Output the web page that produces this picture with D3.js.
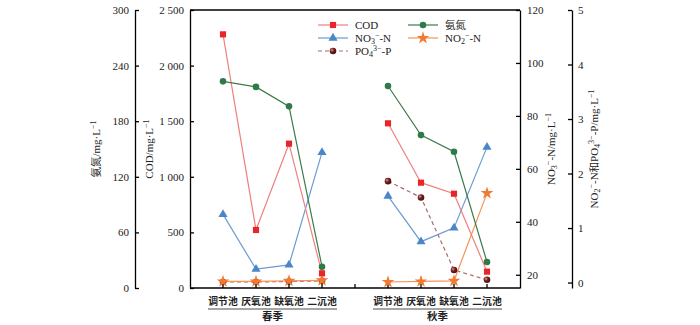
<!DOCTYPE html>
<html lang="zh">
<head>
<meta charset="UTF-8">
<title>Water quality by tank</title>
<script src="https://d3js.org/d3.v7.min.js"></script>
<style>
  body { margin: 0; background: #fff; }
  svg { font-family: "Liberation Serif", "Noto Sans CJK SC", serif; }
  .cn { font-family: "Noto Sans CJK SC", sans-serif; }
</style>
</head>
<body>
<script>
const width = 700, height = 325;

// data (spring 4 tanks, then autumn 4 tanks)
const seasons = ["春季", "秋季"];
const stations = ["调节池", "厌氧池", "缺氧池", "二沉池"];
const codVals = [2281, 522, 1298, 132, 1481, 947, 848, 147];
const nh4Vals = [223, 217, 196, 23, 218, 165, 147, 28];
const no3Vals = [42.8, 22.1, 23.7, 66.2, 49.7, 32.5, 37.7, 68.2];
const no2Vals = [0.02, 0.02, 0.03, 0.04, 0.01, 0.02, 0.03, 1.64];
const po4Vals = [0.01, 0.01, 0.02, 0.03, 1.86, 1.56, 0.23, 0.05];

const nh4Ticks = [0, 60, 120, 180, 240, 300];
const codTicks = [0, 500, 1000, 1500, 2000, 2500];
const no3Ticks = [20, 40, 60, 80, 100, 120];
const pTicks = [0, 1, 2, 3, 4, 5];

const plotTop = 10, plotBottom = 288, plotLeft = 190, plotRight = 520;

const svg = d3.select("body").append("svg")
  .attr("width", width).attr("height", height);

// x slots: one empty slot at each end and between the seasons
const slots = ["s0"];
seasons.forEach((s, i) => {
  stations.forEach(st => slots.push(s + "|" + st));
  slots.push("s" + (i + 1));
});
const x = d3.scalePoint().domain(slots).range([plotLeft, plotRight]);
const keys = [];
seasons.forEach(s => stations.forEach(st => keys.push(s + "|" + st)));

const yNH4 = d3.scaleLinear().domain([0, 300]).range([plotBottom, plotTop]);
const yCOD = d3.scaleLinear().domain([0, 2500]).range([plotBottom, plotTop]);
const yNO3 = d3.scaleLinear().domain([15, 120]).range([plotBottom, plotTop]);
const yP = d3.scaleLinear().domain([-0.1, 5]).range([plotBottom, plotTop]);

function fmt(d) {
  return d >= 1000 ? String(d).replace(/(\d)(\d{3})$/, "$1 $2") : String(d);
}

function styleAxis(g) {
  g.selectAll("path").attr("stroke", "#000").attr("stroke-width", 1.3);
  g.selectAll("line").attr("stroke", "#000").attr("stroke-width", 1.3);
  g.selectAll("text").attr("font-size", 11).attr("fill", "#222")
    .attr("font-family", "Liberation Serif, serif");
}

// plot frame
svg.append("line").attr("x1", plotLeft).attr("x2", plotRight).attr("y1", plotTop).attr("y2", plotTop)
  .attr("stroke", "#000").attr("stroke-width", 1.3);
svg.append("line").attr("x1", plotLeft).attr("x2", plotRight).attr("y1", plotBottom).attr("y2", plotBottom)
  .attr("stroke", "#000").attr("stroke-width", 1.3);

// bottom inner ticks
svg.append("g").selectAll("line")
  .data(slots.slice(1, -1))
  .join("line")
  .attr("x1", d => x(d)).attr("x2", d => x(d))
  .attr("y1", plotBottom).attr("y2", plotBottom - 4)
  .attr("stroke", "#000").attr("stroke-width", 1.3);

svg.append("g").attr("transform", `translate(135,0)`)
  .call(d3.axisLeft(yNH4).tickValues(nh4Ticks).tickSizeInner(-4).tickSizeOuter(0).tickPadding(6))
  .call(styleAxis);
svg.append("g").attr("transform", `translate(${plotLeft},0)`)
  .call(d3.axisLeft(yCOD).tickValues(codTicks).tickFormat(fmt).tickSizeInner(-4).tickSizeOuter(0).tickPadding(6))
  .call(styleAxis);
svg.append("g").attr("transform", `translate(${plotRight},0)`)
  .call(d3.axisRight(yNO3).tickValues(no3Ticks).tickSizeInner(-4).tickSizeOuter(0).tickPadding(7))
  .call(styleAxis);
svg.append("g").attr("transform", `translate(572,0)`)
  .call(d3.axisRight(yP).tickValues(pTicks).tickFormat(d3.format("d")).tickSizeInner(-4).tickSizeOuter(0).tickPadding(6))
  .call(styleAxis);

// axis titles
function addParts(t, parts) {
  parts.forEach(p => {
    const s = t.append("tspan").text(p[0]);
    if (p[1] === "sub") s.attr("baseline-shift", "-25%").attr("font-size", 8);
    if (p[1] === "sup") s.attr("baseline-shift", "45%").attr("font-size", 8);
    if (p[1] === "cn") s.attr("font-family", "Noto Sans CJK SC").attr("font-size", 10.5);
  });
}
function title(xp, parts) {
  const t = svg.append("text")
    .attr("transform", `translate(${xp},149) rotate(-90)`)
    .attr("text-anchor", "middle").attr("font-size", 11).attr("fill", "#222");
  addParts(t, parts);
}
title(100, [["氨氮", "cn"], ["/mg·L"], ["−1", "sup"]]);
title(153, [["COD/mg·L"], ["−1", "sup"]]);
title(555, [["NO"], ["3", "sub"], ["−", "sup"], ["-N/mg·L"], ["−1", "sup"]]);
title(598, [["NO"], ["2", "sub"], ["−", "sup"], ["-N"], ["和", "cn"], ["PO"], ["4", "sub"], ["3−", "sup"], ["-P/mg·L"], ["−1", "sup"]]);

// PO4 sphere gradient
const defs = svg.append("defs");
const grad = defs.append("radialGradient").attr("id", "ball").attr("cx", "35%").attr("cy", "35%").attr("r", "65%");
grad.append("stop").attr("offset", "0%").attr("stop-color", "#d9a0a0");
grad.append("stop").attr("offset", "45%").attr("stop-color", "#7a2020");
grad.append("stop").attr("offset", "100%").attr("stop-color", "#4a0f0f");

const series = [
  { name: "COD", vals: codVals, y: yCOD, line: "#f07f7f", fill: "#e8262a", sym: d3.symbolSquare, size: 38, dash: null },
  { name: "氨氮", vals: nh4Vals, y: yNH4, line: "#3d7a4c", fill: "#2f7a48", sym: d3.symbolCircle, size: 34, dash: null },
  { name: "NO3", vals: no3Vals, y: yNO3, line: "#6b9bd2", fill: "#4a86c8", sym: d3.symbolTriangle, size: 36, dash: null },
  { name: "NO2", vals: no2Vals, y: yP, line: "#f3945a", fill: "#f07a30", sym: d3.symbolStar, size: 50, dash: null },
  { name: "PO4", vals: po4Vals, y: yP, line: "#a86a6a", fill: "url(#ball)", sym: d3.symbolCircle, size: 34, dash: "4,3" }
];

const drawOrder = [series[4], series[3], series[2], series[0], series[1]];
drawOrder.forEach(s => {
  const pts = keys.map((k, i) => ({ k, v: s.vals[i] }));
  seasons.forEach(se => {
    const seg = pts.filter(p => p.k.startsWith(se));
    svg.append("path")
      .datum(seg)
      .attr("fill", "none")
      .attr("stroke", s.line)
      .attr("stroke-width", 1.2)
      .attr("stroke-dasharray", s.dash)
      .attr("d", d3.line().x(p => x(p.k)).y(p => s.y(p.v)));
  });
});
drawOrder.forEach(s => {
  const pts = keys.map((k, i) => ({ k, v: s.vals[i] }));
  svg.append("g").selectAll("path")
    .data(pts)
    .join("path")
    .attr("transform", p => `translate(${x(p.k)},${s.y(p.v)})`)
    .attr("d", d3.symbol().type(s.sym).size(s.size))
    .attr("fill", s.fill);
});

// legend
const leg = svg.append("g");
const legItems = [
  { s: series[0], x: 318, y: 25, label: [["COD"]] },
  { s: series[2], x: 318, y: 38, label: [["NO"], ["3", "sub"], ["−", "sup"], ["-N"]] },
  { s: series[4], x: 318, y: 51, label: [["PO"], ["4", "sub"], ["3−", "sup"], ["-P"]] },
  { s: series[1], x: 408, y: 25, label: [["氨氮", "cn"]] },
  { s: series[3], x: 408, y: 38, label: [["NO"], ["2", "sub"], ["−", "sup"], ["-N"]] }
];
legItems.forEach(it => {
  leg.append("line").attr("x1", it.x).attr("x2", it.x + 30)
    .attr("y1", it.y).attr("y2", it.y)
    .attr("stroke", it.s.line).attr("stroke-width", 1.2)
    .attr("stroke-dasharray", it.s.dash);
  leg.append("path").attr("transform", `translate(${it.x + 15},${it.y})`)
    .attr("d", d3.symbol().type(it.s.sym).size(it.s.size)).attr("fill", it.s.fill);
  const t = leg.append("text").attr("x", it.x + 37).attr("y", it.y + 4)
    .attr("font-size", 11).attr("fill", "#222");
  addParts(t, it.label);
});

// category labels + season groups
keys.forEach(k => {
  svg.append("text").attr("class", "cn")
    .attr("x", x(k)).attr("y", 305)
    .attr("text-anchor", "middle").attr("font-size", 9.8).attr("font-weight", "bold")
    .attr("fill", "#222").text(k.split("|")[1]);
});
seasons.forEach(se => {
  const ks = keys.filter(k => k.startsWith(se));
  const x0 = x(ks[0]) - 15, x1 = x(ks[ks.length - 1]) + 15;
  svg.append("line").attr("x1", x0).attr("x2", x1).attr("y1", 309).attr("y2", 309)
    .attr("stroke", "#888").attr("stroke-width", 1.5);
  svg.append("text").attr("class", "cn")
    .attr("x", (x0 + x1) / 2).attr("y", 320)
    .attr("text-anchor", "middle").attr("font-size", 10.5).attr("font-weight", "bold")
    .attr("fill", "#222").text(se);
});
</script>
</body>
</html>
